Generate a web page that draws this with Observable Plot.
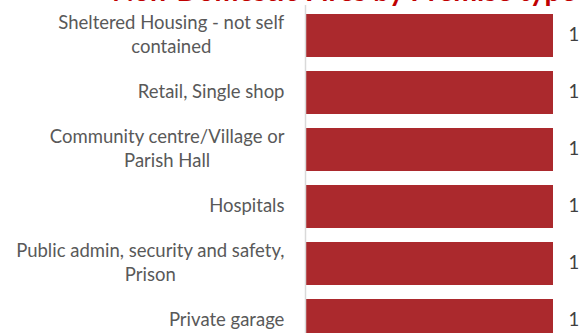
<!DOCTYPE html>
<html>
<head>
<meta charset="utf-8">
<script src="https://cdn.jsdelivr.net/npm/d3@7"></script>
<script src="https://cdn.jsdelivr.net/npm/@observablehq/plot@0.6"></script>
<style>
  html, body { margin: 0; padding: 0; background: #fff; overflow: hidden; width: 580px; height: 333px; }
  #wrap { position: relative; width: 580px; height: 333px; overflow: hidden; }
  #title { position: absolute; left: 112px; top: -25.5px; white-space: nowrap; z-index: 2;
           font-family: Lato, sans-serif; font-weight: bold; font-size: 28.5px; color: #c00000; line-height: 30px; }
  #chart { position: absolute; left: 0; top: 0; z-index: 1; }
</style>
</head>
<body>
<div id="wrap">
  <div id="title">Non-Domestic Fires by Premise type</div>
  <div id="chart"></div>
</div>
<script>
const categories = [
  "Sheltered Housing - not self contained",
  "Retail, Single shop",
  "Community centre/Village or Parish Hall",
  "Hospitals",
  "Public admin, security and safety, Prison",
  "Private garage"
];
const tickLabels = [
  "Sheltered Housing - not self\ncontained",
  "Retail, Single shop",
  "Community centre/Village or\nParish Hall",
  "Hospitals",
  "Public admin, security and safety,\nPrison",
  "Private garage"
];
const values = [1, 1, 1, 1, 1, 1];

const data = categories.map((c, i) => ({category: c, value: values[i], label: tickLabels[i]}));
const labelOf = new Map(data.map(d => [d.category, d.label]));

const chart = Plot.plot({
  width: 580,
  height: 350,
  marginTop: 5,
  marginBottom: 0,
  marginLeft: 305,
  marginRight: 27,
  style: {fontFamily: "Lato, sans-serif", fontSize: "18.5px", color: "#595959", background: "transparent"},
  x: {domain: [0, 1], axis: null},
  y: {domain: categories, paddingInner: 0.25, paddingOuter: 0.14, label: null},
  marks: [
    Plot.barX(data, {x: "value", y: "category", fill: "#ab292d"}),
    Plot.ruleX([0], {stroke: "#d9d9d9", strokeWidth: 1.5}),
    Plot.axisY({tickSize: 0, tickPadding: 21, dy: -3, tickFormat: d => labelOf.get(d), lineHeight: 1.3, fill: "#595959", fontSize: 18.5}),
    Plot.text(data, {x: "value", y: "category", text: d => String(d.value), textAnchor: "start", dx: 15, dy: -1, fill: "#404040", fontSize: 18.5})
  ]
});
document.getElementById("chart").appendChild(chart);

// centre-align lines of multi-line tick labels within their right-aligned block
chart.querySelectorAll('g[aria-label="y-axis tick label"] text').forEach(t => {
  const w = t.getBBox().width;
  t.setAttribute("text-anchor", "middle");
  const tr = t.getAttribute("transform") || "";
  t.setAttribute("transform", tr + ` translate(${-w / 2},0)`);
});
</script>
</body>
</html>
